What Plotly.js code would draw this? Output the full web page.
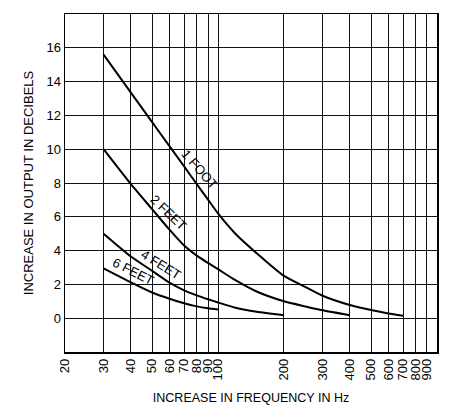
<!DOCTYPE html>
<html>
<head>
<meta charset="utf-8">
<script src="https://cdn.plot.ly/plotly-3.0.1.min.js"></script>
<style>
  html, body { margin: 0; padding: 0; background: #fff; }
  #chart { width: 459px; height: 407px; }
</style>
</head>
<body>
<div id="chart"></div>
<script>
// Số liệu (tần số Hz, tăng dB)
var freq_1ft = [30, 40, 50, 60, 70, 80, 90, 100, 120, 150, 200, 250, 300, 400, 500, 600, 700];
var db_1ft   = [15.6, 13.35, 11.6, 10.18, 8.98, 7.93, 7.02, 6.2, 5.0, 3.85, 2.5, 1.85, 1.33, 0.78, 0.48, 0.28, 0.15];

var freq_2ft = [30, 40, 50, 60, 70, 80, 90, 100, 120, 150, 200, 250, 300, 400];
var db_2ft   = [10, 7.93, 6.45, 5.24, 4.3, 3.7, 3.27, 2.9, 2.25, 1.58, 1.0, 0.7, 0.47, 0.18];

var freq_4ft = [30, 40, 50, 60, 70, 80, 90, 100, 120, 150, 200];
var db_4ft   = [5.0, 3.65, 2.8, 2.1, 1.65, 1.35, 1.12, 0.93, 0.62, 0.38, 0.18];

var freq_6ft = [30, 40, 50, 60, 70, 80, 90, 100];
var db_6ft   = [2.95, 2.12, 1.52, 1.15, 0.88, 0.7, 0.59, 0.52];

// Nhãn trục
var xTickVals = [20, 30, 40, 50, 60, 70, 80, 90, 100, 200, 300, 400, 500, 600, 700, 800, 900];
var xTickText = ['20', '30', '40', '50', '60', '70', '80', '90', '100', '200', '300', '400', '500', '600', '700', '800', '900'];
var yTickVals = [0, 2, 4, 6, 8, 10, 12, 14, 16];

// Nhãn các đường cong
var curveNames = ['1 FOOT', '2 FEET', '4 FEET', '6 FEET'];
var labelFreq  = [80, 57.3, 54.3, 41.0];
var labelDb    = [8.62, 6.05, 2.95, 2.56];
var labelAngle = [49, 44, 32, 27];
var labelDx    = [3, 3, 1, 0];
var labelDy    = [3, 3, 4, 3];

var FONT = 'Liberation Sans, Arial, sans-serif';

function fn_Curve(x, y, name){
    return {
        x: x, y: y, name: name,
        type: 'scatter', mode: 'lines',
        line: {color: '#000', width: 2, shape: 'spline', smoothing: 0.6},
        hoverinfo: 'skip'
    };
}

var data = [
    fn_Curve(freq_1ft, db_1ft, curveNames[0]),
    fn_Curve(freq_2ft, db_2ft, curveNames[1]),
    fn_Curve(freq_4ft, db_4ft, curveNames[2]),
    fn_Curve(freq_6ft, db_6ft, curveNames[3])
];

// Trục log: vị trí chú thích tính theo log10
var annotations = [];
for (var i = 0; i < curveNames.length; i++) {
    annotations.push({
        x: Math.log10(labelFreq[i]), y: labelDb[i],
        xref: 'x', yref: 'y',
        xshift: labelDx[i], yshift: labelDy[i],
        text: curveNames[i],
        showarrow: false,
        textangle: labelAngle[i],
        font: {family: FONT, size: 13, color: '#000'}
    });
}

var layout = {
    width: 459, height: 407,
    margin: {l: 65, r: 22, t: 14, b: 55},
    paper_bgcolor: '#fff',
    plot_bgcolor: '#fff',
    showlegend: false,
    font: {family: FONT, size: 13, color: '#000'},
    xaxis: {
        type: 'log',
        range: [Math.log10(20), Math.log10(1000)],
        tickvals: xTickVals,
        ticktext: xTickText,
        tickangle: -90,
        ticks: '',
        showgrid: true, gridcolor: '#111', gridwidth: 1,
        showline: true, linecolor: '#000', linewidth: 1.5, mirror: true,
        zeroline: false,
        tickfont: {family: FONT, size: 13, color: '#000'},
        title: {text: 'INCREASE IN FREQUENCY IN Hz', font: {family: FONT, size: 12.5, color: '#000'}, standoff: 14}
    },
    yaxis: {
        range: [-2, 18],
        tickvals: yTickVals,
        ticks: '',
        showgrid: true, gridcolor: '#111', gridwidth: 1,
        showline: true, linecolor: '#000', linewidth: 1.5, mirror: true,
        zeroline: false,
        tickfont: {family: FONT, size: 13, color: '#000'},
        title: {text: 'INCREASE IN OUTPUT IN DECIBELS', font: {family: FONT, size: 13, color: '#000'}, standoff: 10}
    },
    annotations: annotations
};

Plotly.newPlot('chart', data, layout, {staticPlot: true, displayModeBar: false});
</script>
</body>
</html>
